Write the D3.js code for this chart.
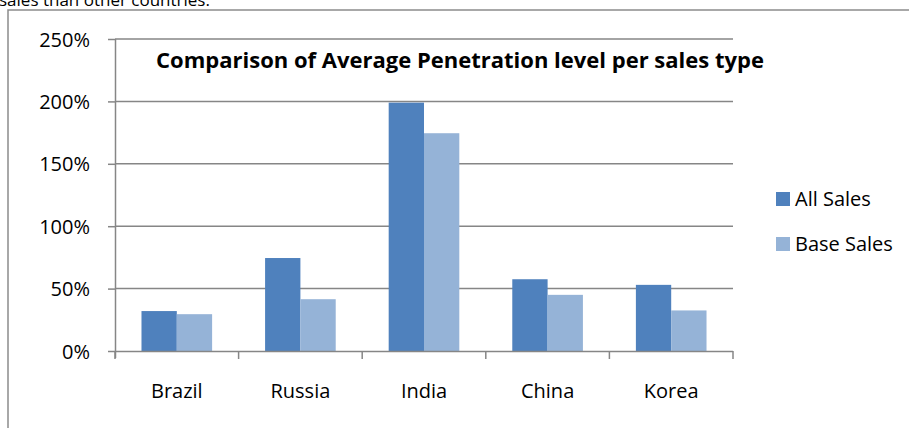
<!DOCTYPE html>
<html>
<head>
<meta charset="utf-8">
<script src="https://cdn.jsdelivr.net/npm/d3@7"></script>
<style>
  body { margin: 0; background: #fff; }
  text { font-family: "Open Sans", Lato, sans-serif; fill: #000; }
</style>
</head>
<body>
<svg id="chart" width="909" height="428"></svg>
<script>
var countries = ["Brazil", "Russia", "India", "China", "Korea"];
var seriesNames = ["All Sales", "Base Sales"];
var allSales = [0.32, 0.745, 1.99, 0.575, 0.53];
var baseSales = [0.295, 0.415, 1.745, 0.45, 0.325];
var yTicks = [0, 0.5, 1, 1.5, 2, 2.5];
var colors = ["#4f81bd", "#95b3d7"];

var svg = d3.select("#chart");

var margin = {top: 39, left: 115, right: 176, bottom: 77}
  , width = 909 - margin.left - margin.right
  , height = 428 - margin.top - margin.bottom;

// cut-off line of the surrounding document text
svg.append("text")
    .attr("x", -1)
    .attr("y", 6)
    .style("font-size", "17px")
    .text("sales than other countries.");

// outer chart frame (runs past the right and bottom edges)
svg.append("path")
    .attr("d", "M8,440 L8,10 L920,10")
    .attr("fill", "none")
    .attr("stroke", "#8c8c8c")
    .attr("stroke-width", 1.5);

var g = svg.append("g")
    .attr("transform", "translate(" + margin.left + "," + margin.top + ")");

var x0 = d3.scaleBand()
    .domain(countries)
    .range([0, width]);

var x1 = d3.scaleBand()
    .domain(seriesNames)
    .range([0, x0.bandwidth()])
    .paddingOuter(0.75)
    .paddingInner(0);

var y = d3.scaleLinear()
    .domain([0, 2.5])
    .range([height, 0]);

// gridlines
g.selectAll(".grid")
    .data(yTicks.slice(1))
  .enter().append("line")
    .attr("class", "grid")
    .attr("x1", 0)
    .attr("x2", width)
    .attr("y1", function(d) { return y(d); })
    .attr("y2", function(d) { return y(d); })
    .attr("stroke", "#868686")
    .attr("stroke-width", 1.5);

var rows = countries.map(function(c, i) {
  return {country: c, values: [allSales[i], baseSales[i]]};
});

var groups = g.selectAll(".cat")
    .data(rows)
  .enter().append("g")
    .attr("class", "cat")
    .attr("transform", function(d) { return "translate(" + x0(d.country) + ",0)"; });

groups.selectAll("rect")
    .data(function(d) { return d.values.map(function(v, i) { return {key: seriesNames[i], value: v, i: i}; }); })
  .enter().append("rect")
    .attr("x", function(d) { return x1(d.key); })
    .attr("width", x1.bandwidth())
    .attr("y", function(d) { return y(d.value); })
    .attr("height", function(d) { return height - y(d.value); })
    .attr("fill", function(d) { return colors[d.i]; });

// y axis
var yAxis = g.append("g")
    .call(d3.axisLeft(y)
      .tickValues(yTicks)
      .tickSize(7)
      .tickPadding(18)
      .tickFormat(d3.format(".0%")));

yAxis.select(".domain").attr("stroke", "#868686").attr("stroke-width", 1.5)
    .attr("d", "M0.5," + (height + 7) + "V0");
yAxis.selectAll(".tick line").attr("stroke", "#868686").attr("stroke-width", 1.5);
yAxis.selectAll(".tick text").style("font-size", "20px").attr("dy", "0.35em");

// x axis
var xAxis = g.append("g")
    .attr("transform", "translate(0," + height + ")")
    .call(d3.axisBottom(x0).tickSize(0).tickPadding(33));

xAxis.select(".domain").attr("stroke", "#868686").attr("stroke-width", 1.5)
    .attr("d", "M0,0.5H" + width);
xAxis.selectAll(".tick text").style("font-size", "20px");

xAxis.selectAll(".sep")
    .data(d3.range(countries.length + 1))
  .enter().append("line")
    .attr("class", "sep")
    .attr("x1", function(i) { return i * x0.bandwidth(); })
    .attr("x2", function(i) { return i * x0.bandwidth(); })
    .attr("y1", 0)
    .attr("y2", 8)
    .attr("stroke", "#868686")
    .attr("stroke-width", 1.5);

// title
svg.append("text")
    .attr("x", 460)
    .attr("y", 68)
    .attr("text-anchor", "middle")
    .style("font-size", "22px")
    .style("font-weight", "bold")
    .text("Comparison of Average Penetration level per sales type");

// legend
var legend = svg.append("g")
    .attr("transform", "translate(776,192)");

var item = legend.selectAll(".item")
    .data(seriesNames)
  .enter().append("g")
    .attr("class", "item")
    .attr("transform", function(d, i) { return "translate(0," + (i * 45) + ")"; });

item.append("rect")
    .attr("width", 14)
    .attr("height", 14)
    .attr("fill", function(d, i) { return colors[i]; });

item.append("text")
    .attr("x", 19)
    .attr("y", 14)
    .style("font-size", "20px")
    .text(function(d) { return d; });
</script>
</body>
</html>
